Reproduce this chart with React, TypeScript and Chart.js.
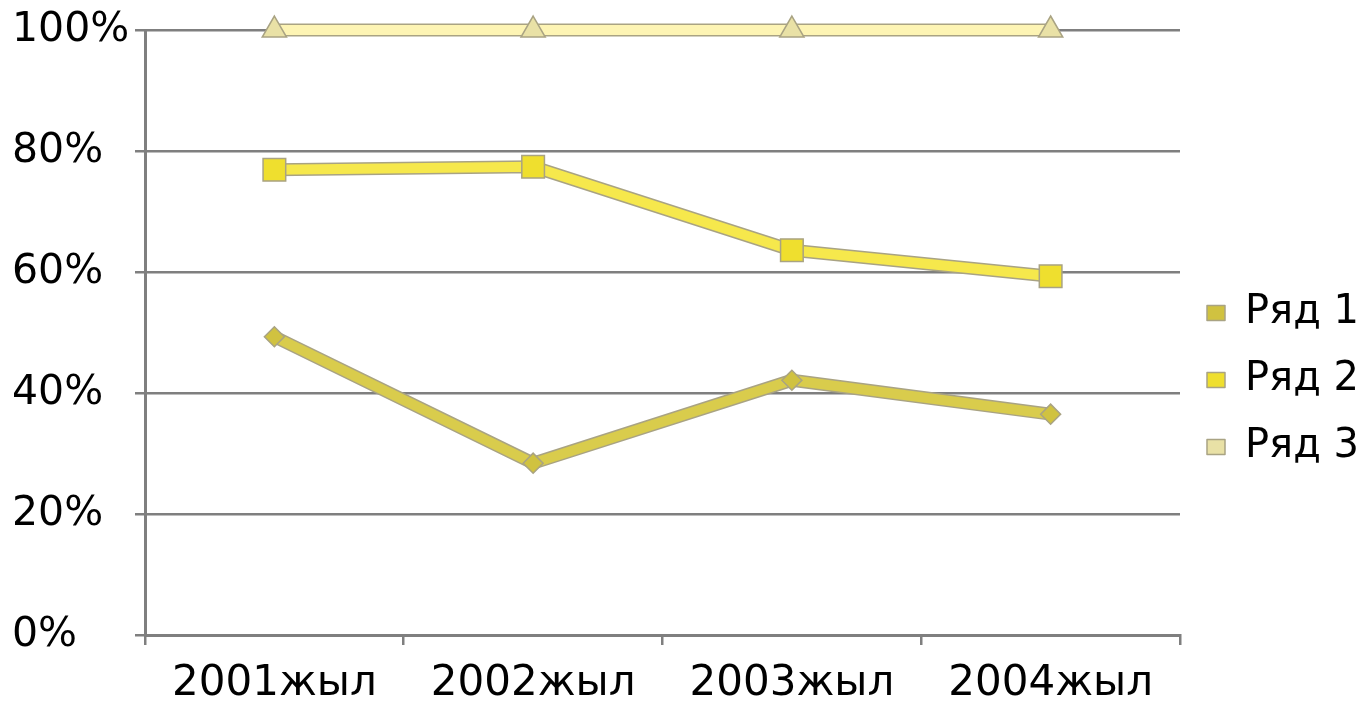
import React, { useEffect, useRef } from "react";
import { Chart, registerables } from "chart.js";

Chart.register(...registerables);

// Categories and series values (percent)
const categories = ["2001жыл", "2002жыл", "2003жыл", "2004жыл"];
const seriesNames = ["Ряд 1", "Ряд 2", "Ряд 3"];
const row1 = [49.3, 28.4, 42.1, 36.5];
const row2 = [76.9, 77.4, 63.6, 59.3];
const row3 = [100, 100, 100, 100];
const yTicks = [0, 20, 40, 60, 80, 100];

const FONT = "'DejaVu Sans', Verdana, sans-serif";
const GRID = "#7f7f7f";
const OUTLINE = "#a9a383";

const styles = [
  { line: "#d9cc4c", point: "#d0c240", shape: "rectRot", radius: 10 },
  { line: "#f6e84c", point: "#efdf2e", shape: "rect", radius: 16 },
  { line: "#fdf4b4", point: "#e9e1a6", shape: "triangle", radius: 14 },
];

export default function App() {
  const canvasRef = useRef<HTMLCanvasElement | null>(null);

  useEffect(() => {
    document.body.style.margin = "0";
    const canvas = canvasRef.current;
    if (!canvas) return;

    const values = [row1, row2, row3];

    // coloured lines with markers
    const main = values.map((data, i) => ({
      label: seriesNames[i],
      data,
      borderColor: styles[i].line,
      backgroundColor: styles[i].point,
      borderWidth: 10,
      pointStyle: styles[i].shape as any,
      pointRadius: styles[i].radius,
      pointBackgroundColor: styles[i].point,
      pointBorderColor: OUTLINE,
      pointBorderWidth: 1.5,
      borderJoinStyle: "round" as const,
      clip: false as any,
      order: i + 1,
      isOutline: false,
    }));

    // thin grey edge under each line
    const edges = values.map((data, i) => ({
      label: seriesNames[i] + " ",
      data,
      borderColor: OUTLINE,
      backgroundColor: OUTLINE,
      borderWidth: 13,
      pointRadius: 0,
      borderJoinStyle: "round" as const,
      clip: false as any,
      order: 10 + i,
      isOutline: true,
    }));

    const chart = new Chart(canvas, {
      type: "line",
      data: { labels: categories, datasets: [...main, ...edges] as any },
      options: {
        responsive: false,
        animation: false,
        layout: { padding: { left: 12, top: 30, right: -8, bottom: 0 } },
        plugins: {
          tooltip: { enabled: false },
          legend: {
            position: "right",
            align: "center",
            title: { display: true, text: "", font: { size: 10 }, padding: { top: 12, bottom: 0 } },
            labels: {
              font: { family: FONT, size: 40 },
              color: "#000",
              boxWidth: 18,
              boxHeight: 15,
              padding: 27,
              filter: (item: any, data: any) => !data.datasets[item.datasetIndex].isOutline,
              generateLabels: (c: any) =>
                Chart.defaults.plugins.legend.labels.generateLabels(c).map((it: any) => ({
                  ...it,
                  fillStyle: styles[it.datasetIndex % 3]?.point,
                  strokeStyle: OUTLINE,
                  lineWidth: 1.5,
                  lineDash: [],
                })),
            },
          },
        },
        scales: {
          x: {
            offset: true,
            grid: {
              offset: true,
              drawOnChartArea: false,
              color: GRID,
              lineWidth: 2.5,
              tickLength: 10,
            },
            border: { color: GRID, width: 3 },
            ticks: {
              font: { family: FONT, size: 42 },
              color: "#000",
              padding: 14,
              maxRotation: 0,
            },
            afterFit: (s: any) => {
              s.height = 71;
            },
          },
          y: {
            min: 0,
            max: 100,
            afterBuildTicks: (s: any) => {
              s.ticks = yTicks.map((v) => ({ value: v }));
            },
            grid: { color: GRID, lineWidth: 2.5, tickLength: 10 },
            border: { color: GRID, width: 3 },
            ticks: {
              font: { family: FONT, size: 41 },
              color: "#000",
              crossAlign: "far",
              callback: (v: any) => v + "%",
            },
            afterFit: (s: any) => {
              s.width = 133;
            },
          },
        },
      },
    });

    return () => chart.destroy();
  }, []);

  return (
    <div style={{ width: 1361, height: 706, background: "#fff" }}>
      <canvas ref={canvasRef} width={1361} height={706} style={{ display: "block" }} />
    </div>
  );
}
